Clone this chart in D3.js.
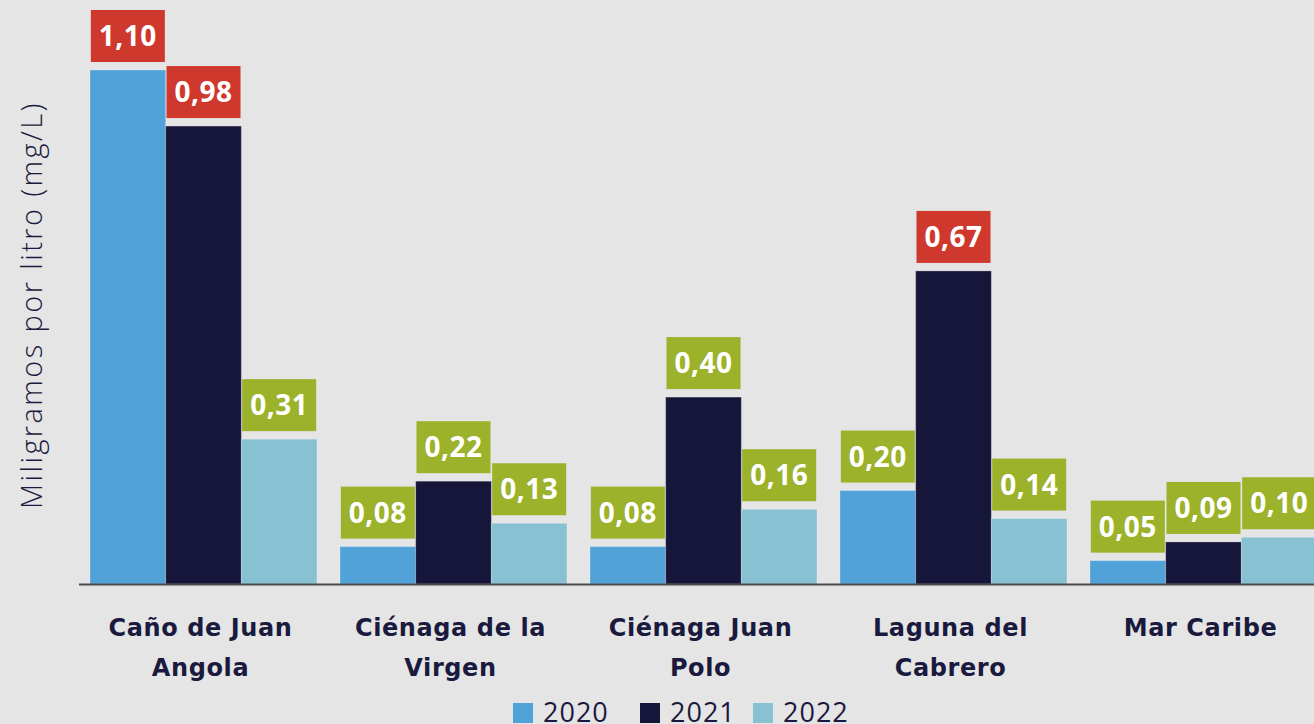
<!DOCTYPE html>
<html>
<head>
<meta charset="utf-8">
<script src="https://cdn.jsdelivr.net/npm/d3@7"></script>
<style>
  body { margin: 0; background: #e5e5e5; }
  svg { display: block; font-family: "Open Sans", sans-serif; }
</style>
</head>
<body>
<div id="chart"></div>
<script>
// datos
let sitios = ["Caño de Juan Angola", "Ciénaga de la Virgen", "Ciénaga Juan Polo", "Laguna del Cabrero", "Mar Caribe"]
let etiquetas = [["Caño de Juan", "Angola"], ["Ciénaga de la", "Virgen"], ["Ciénaga Juan", "Polo"], ["Laguna del", "Cabrero"], ["Mar Caribe"]]
let anios = ["2020", "2021", "2022"]
let v2020 = [1.10, 0.08, 0.08, 0.20, 0.05]
let v2021 = [0.98, 0.22, 0.40, 0.67, 0.09]
let v2022 = [0.31, 0.13, 0.16, 0.14, 0.10]
let limite = 0.5   // por encima se marca en rojo

let width = 1314
let height = 724
let base = 584

let colores = {"2020": "#51a2d9", "2021": "#16153a", "2022": "#87c1d2"}

let datos = []
sitios.forEach((s, i) => {
  datos.push({sitio: s, anio: "2020", v: v2020[i]})
  datos.push({sitio: s, anio: "2021", v: v2021[i]})
  datos.push({sitio: s, anio: "2022", v: v2022[i]})
})

let svg = d3.select("#chart")
  .append("svg")
  .attr("width", width)
  .attr("height", height)

svg.append("rect").attr("width", width).attr("height", height).attr("fill", "#e5e5e5")

let x0 = d3.scaleBand()
  .domain(sitios)
  .range([78.5, 1328.5])
  .paddingInner(0.092)
  .paddingOuter(0.046)

let x1 = d3.scaleBand()
  .domain(anios)
  .range([0, x0.bandwidth()])

let y = d3.scaleLinear()
  .domain([0, 1.1])
  .range([base, 70])

// barras
svg.selectAll("rect.bar")
  .data(datos)
  .enter()
  .append("rect")
  .attr("class", "bar")
  .attr("x", d => x0(d.sitio) + x1(d.anio))
  .attr("y", d => y(d.v))
  .attr("width", x1.bandwidth())
  .attr("height", d => base - y(d.v))
  .attr("fill", d => colores[d.anio])
  .attr("stroke", "#ffffff")
  .attr("stroke-opacity", 0.25)
  .attr("stroke-width", 1)

// eje x
svg.append("line")
  .attr("x1", 79).attr("x2", width)
  .attr("y1", base + 0.5).attr("y2", base + 0.5)
  .attr("stroke", "#4a4a4a")
  .attr("stroke-width", 2)

let xAxis = d3.axisBottom(x0).tickSize(0).tickFormat("")
let gx = svg.append("g")
  .attr("transform", `translate(-3,${base})`)
  .call(xAxis)
gx.select(".domain").remove()
gx.selectAll(".tick text").remove()
gx.selectAll(".tick").each(function(d, i) {
  let t = d3.select(this).append("text")
    .attr("text-anchor", "middle")
    .attr("fill", "#1a1a3e")
    .attr("font-family", "'DejaVu Sans', sans-serif")
    .attr("font-size", 24)
    .attr("font-weight", 700)
    .attr("letter-spacing", 0.6)
  etiquetas[i].forEach((l, k) => {
    t.append("tspan").attr("x", 0).attr("y", 52 + k * 40).text(l)
  })
})

// etiquetas de valor
let lab = svg.selectAll("g.lab")
  .data(datos)
  .enter()
  .append("g")
  .attr("class", "lab")
  .attr("transform", d => `translate(${x0(d.sitio) + x1(d.anio) + x1.bandwidth() / 2},${y(d.v) - 8})`)

lab.append("rect")
  .attr("fill", d => d.v > limite ? "#cf382c" : "#9bb22a")
  .attr("y", -52)
  .attr("height", 52)

lab.append("text")
  .attr("text-anchor", "middle")
  .attr("y", -16)
  .attr("fill", "#ffffff")
  .attr("font-size", 28)
  .attr("font-weight", 700)
  .attr("letter-spacing", 0.5)
  .text(d => d.v.toFixed(2).replace(".", ","))

lab.each(function() {
  let g = d3.select(this)
  let w = g.select("text").node().getComputedTextLength() + 16
  g.select("rect").attr("x", -w / 2).attr("width", w)
})

// titulo eje y
svg.append("text")
  .attr("transform", "translate(42,305) rotate(-90)")
  .attr("text-anchor", "middle")
  .attr("fill", "#1a1a3e")
  .attr("font-size", 29)
  .attr("font-weight", 300)
  .attr("letter-spacing", 2.4)
  .text("Miligramos por litro (mg/L)")

// leyenda
let legX = [513, 640, 753]
let leg = svg.selectAll("g.leg")
  .data(anios)
  .enter()
  .append("g")
  .attr("class", "leg")
  .attr("transform", (d, i) => `translate(${legX[i]},703)`)

leg.append("rect")
  .attr("width", 20).attr("height", 20)
  .attr("fill", d => colores[d])

leg.append("text")
  .attr("x", 30).attr("y", 19)
  .attr("fill", "#1a1a3e")
  .attr("font-size", 27)
  .attr("letter-spacing", 1)
  .text(d => d)
</script>
</body>
</html>
